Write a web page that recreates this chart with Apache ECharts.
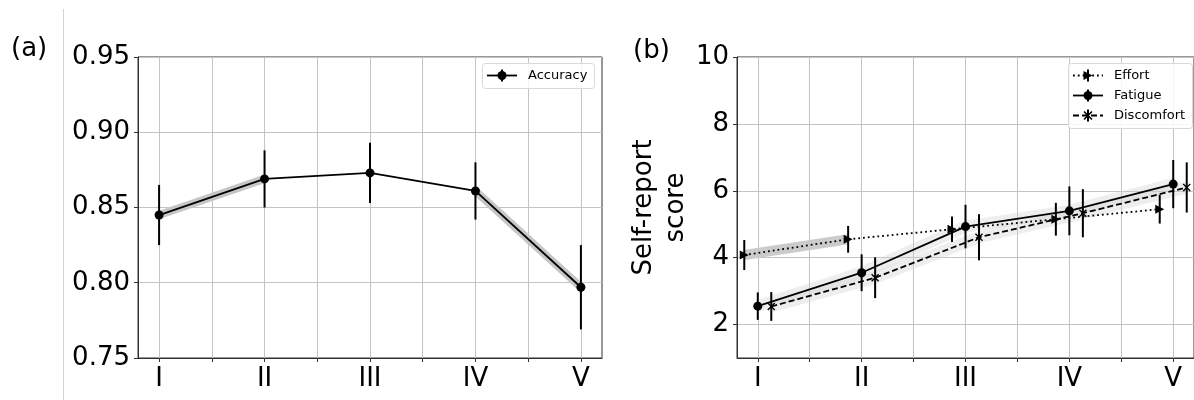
<!DOCTYPE html>
<html>
<head>
<meta charset="utf-8">
<script src="https://cdn.jsdelivr.net/npm/echarts@6/dist/echarts.min.js"></script>
<style>
  html, body { margin: 0; padding: 0; background: #fff; }
  #chart { width: 1194px; height: 400px; }
</style>
</head>
<body>
<div id="chart"></div>
<script>
// stages on the x axis
var stageLabels = ['I', 'II', 'III', 'IV', 'V'];
var stageValues = [1, 2, 3, 4, 5];

// (a) accuracy, mean and error
var accuracy = [0.845, 0.869, 0.873, 0.861, 0.797];
var accuracyErr = [0.020, 0.019, 0.020, 0.019, 0.028];
var accuracyBand = [[0, 1], [3, 4]];   // shaded segments

// (b) self-report scores
var effort = [4.08, 4.55, 4.85, 5.15, 5.45];
var effortErr = [0.45, 0.40, 0.38, 0.49, 0.43];
var fatigue = [2.55, 3.55, 4.93, 5.40, 6.20];
var fatigueErr = [0.41, 0.55, 0.65, 0.73, 0.72];
var discomfort = [2.54, 3.40, 4.61, 5.33, 6.10];
var discomfortErr = [0.43, 0.61, 0.69, 0.72, 0.75];
var effortBand = [[0, 1]];
var fatigueBand = [[0, 1], [1, 2], [2, 3], [3, 4]];
var discomfortBand = [[0, 1], [1, 2], [2, 3], [3, 4]];

var scoreTicks = [2, 4, 6, 8, 10];

var FONT = 'DejaVu Sans';
var SHIFT = 0.13;   // dodge for effort / discomfort
var triPath = 'path://M0,0L10,5L0,10Z';
var crossPath = 'path://M0,1.2L1.2,0L5,3.8L8.8,0L10,1.2L6.2,5L10,8.8L8.8,10L5,6.2L1.2,10L0,8.8L3.8,5Z';

// half-step ticks between stages
var minorTicks = [];
stageValues.forEach(function (v, i) {
  minorTicks.push(v);
  if (i < stageValues.length - 1) minorTicks.push(v + 0.5);
});

function pts(vals, shift) {
  return vals.map(function (v, i) { return [stageValues[i] + shift, v]; });
}

function lineSeries(name, vals, shift, symbol, size, dash, idx) {
  return {
    name: name, type: 'line', xAxisIndex: idx, yAxisIndex: idx,
    data: pts(vals, shift),
    symbol: symbol, symbolSize: size, showAllSymbol: true,
    z: 3, silent: true,
    lineStyle: { color: '#000', width: 1.8, type: dash, cap: 'butt' },
    itemStyle: { color: '#000' }
  };
}

function errSeries(vals, errs, shift, idx) {
  return {
    type: 'custom', xAxisIndex: idx, yAxisIndex: idx, z: 4, silent: true,
    data: vals.map(function (v, i) { return [stageValues[i] + shift, v - errs[i], v + errs[i]]; }),
    encode: { x: 0, y: [1, 2] },
    renderItem: function (params, api) {
      var a = api.coord([api.value(0), api.value(1)]);
      var b = api.coord([api.value(0), api.value(2)]);
      return {
        type: 'line',
        shape: { x1: a[0], y1: a[1], x2: b[0], y2: b[1] },
        style: { stroke: '#000', lineWidth: 2 }
      };
    }
  };
}

function bandSeries(vals, segs, shift, color, width, idx) {
  return segs.map(function (s) {
    return {
      type: 'line', xAxisIndex: idx, yAxisIndex: idx, z: 1, silent: true,
      data: [[stageValues[s[0]] + shift, vals[s[0]]], [stageValues[s[1]] + shift, vals[s[1]]]],
      symbol: 'none',
      lineStyle: { color: color, width: width, cap: 'butt' }
    };
  });
}

function xAxisFor(idx) {
  return {
    type: 'value', gridIndex: idx, min: 0.8, max: 5.2,
    axisLine: { show: true, onZero: false, lineStyle: { color: '#333', width: 1 } },
    axisTick: { show: true, inside: false, length: 4, customValues: minorTicks, lineStyle: { color: '#333' } },
    axisLabel: {
      customValues: stageValues, margin: 8,
      fontFamily: FONT, fontSize: 26, color: '#000',
      formatter: function (v) { return stageLabels[Math.round(v) - 1]; }
    },
    splitLine: { show: true, lineStyle: { color: '#c4c4c4', width: 1 } }
  };
}

var chart = echarts.init(document.getElementById('chart'));

var series = []
  .concat(bandSeries(accuracy, accuracyBand, 0, '#c6c6c6', 8, 0))
  .concat([lineSeries('Accuracy', accuracy, 0, 'circle', 9, 'solid', 0), errSeries(accuracy, accuracyErr, 0, 0)])
  .concat(bandSeries(fatigue, fatigueBand, 0, 'rgba(205,205,205,0.35)', 12, 1))
  .concat(bandSeries(discomfort, discomfortBand, SHIFT, 'rgba(205,205,205,0.35)', 12, 1))
  .concat(bandSeries(effort, effortBand, -SHIFT, '#cbcbcb', 10, 1))
  .concat([
    lineSeries('Effort', effort, -SHIFT, triPath, 9, [1.8, 3], 1),
    errSeries(effort, effortErr, -SHIFT, 1),
    lineSeries('Fatigue', fatigue, 0, 'circle', 9, 'solid', 1),
    errSeries(fatigue, fatigueErr, 0, 1),
    lineSeries('Discomfort', discomfort, SHIFT, crossPath, 8, [6, 3], 1),
    errSeries(discomfort, discomfortErr, SHIFT, 1)
  ]);

function legendItem(x, y, label, dash, marker) {
  var items = [
    { type: 'line', shape: { x1: x, y1: y, x2: x + 30, y2: y }, style: { stroke: '#000', lineWidth: 1.8, lineDash: dash } },
    { type: 'line', shape: { x1: x + 15, y1: y - 6, x2: x + 15, y2: y + 6 }, style: { stroke: '#000', lineWidth: 2 } }
  ];
  if (marker === 'circle') {
    items.push({ type: 'circle', shape: { cx: x + 15, cy: y, r: 4.5 }, style: { fill: '#000' } });
  } else if (marker === 'tri') {
    items.push({ type: 'polygon', shape: { points: [[x + 10.5, y - 4.5], [x + 19.5, y], [x + 10.5, y + 4.5]] }, style: { fill: '#000' } });
  } else {
    items.push({ type: 'line', shape: { x1: x + 11, y1: y - 4, x2: x + 19, y2: y + 4 }, style: { stroke: '#000', lineWidth: 1.6 } });
    items.push({ type: 'line', shape: { x1: x + 19, y1: y - 4, x2: x + 11, y2: y + 4 }, style: { stroke: '#000', lineWidth: 1.6 } });
  }
  items.push({
    type: 'text', x: x + 41, y: y,
    style: { text: label, font: '13px "DejaVu Sans"', fill: '#000', textVerticalAlign: 'middle' }
  });
  return items;
}

var graphics = [
  { type: 'line', shape: { x1: 63.5, y1: 9, x2: 63.5, y2: 400 }, style: { stroke: '#d4d4d4', lineWidth: 1 } },
  { type: 'text', x: 11, y: 49, style: { text: '(a)', font: '26px "DejaVu Sans"', fill: '#000', textVerticalAlign: 'middle' } },
  { type: 'text', x: 633, y: 51, style: { text: '(b)', font: '26px "DejaVu Sans"', fill: '#000', textVerticalAlign: 'middle' } },
  { type: 'rect', shape: { x: 482.5, y: 63.5, width: 112, height: 25, r: 3 }, style: { fill: 'rgba(255,255,255,0.85)', stroke: '#d8d8d8', lineWidth: 1 }, z: 10 },
  { type: 'rect', shape: { x: 1068.5, y: 63.5, width: 124, height: 65, r: 3 }, style: { fill: 'rgba(255,255,255,0.85)', stroke: '#d8d8d8', lineWidth: 1 }, z: 10 }
];
var legendParts = []
  .concat(legendItem(487, 75.5, 'Accuracy', null, 'circle'))
  .concat(legendItem(1073, 75.5, 'Effort', [1.8, 3], 'tri'))
  .concat(legendItem(1073, 95.5, 'Fatigue', null, 'circle'))
  .concat(legendItem(1073, 115.5, 'Discomfort', [6, 3], 'cross'));
legendParts.forEach(function (g) { g.z = 11; graphics.push(g); });

var option = {
  backgroundColor: '#fff',
  animation: false,
  grid: [
    { left: 138, top: 57, width: 464, height: 301, show: true, borderColor: '#333', borderWidth: 1, containLabel: false },
    { left: 737, top: 57, width: 464, height: 301, show: true, borderColor: '#333', borderWidth: 1, containLabel: false }
  ],
  xAxis: [xAxisFor(0), xAxisFor(1)],
  yAxis: [
    {
      type: 'value', gridIndex: 0, min: 0.75, max: 0.95, interval: 0.05,
      axisLine: { show: true, lineStyle: { color: '#333', width: 1 } },
      axisTick: { show: true, inside: false, length: 4, lineStyle: { color: '#333' } },
      axisLabel: {
        margin: 8, fontFamily: FONT, fontSize: 26, color: '#000',
        formatter: function (v) { return v.toFixed(2); }
      },
      splitLine: { show: true, lineStyle: { color: '#c4c4c4', width: 1 } }
    },
    {
      type: 'value', gridIndex: 1, min: 1, max: 10,
      name: 'Self-report\nscore', nameLocation: 'middle', nameRotate: 90, nameGap: 35,
      nameTextStyle: { fontFamily: FONT, fontSize: 26, color: '#000', lineHeight: 32 },
      axisLine: { show: true, lineStyle: { color: '#333', width: 1 } },
      axisTick: { show: true, inside: false, length: 4, customValues: scoreTicks, lineStyle: { color: '#333' } },
      axisLabel: { customValues: scoreTicks, margin: 8, fontFamily: FONT, fontSize: 26, color: '#000' },
      splitLine: { show: true, lineStyle: { color: '#c4c4c4', width: 1 } }
    }
  ],
  series: series,
  graphic: graphics
};

chart.setOption(option);
</script>
</body>
</html>
